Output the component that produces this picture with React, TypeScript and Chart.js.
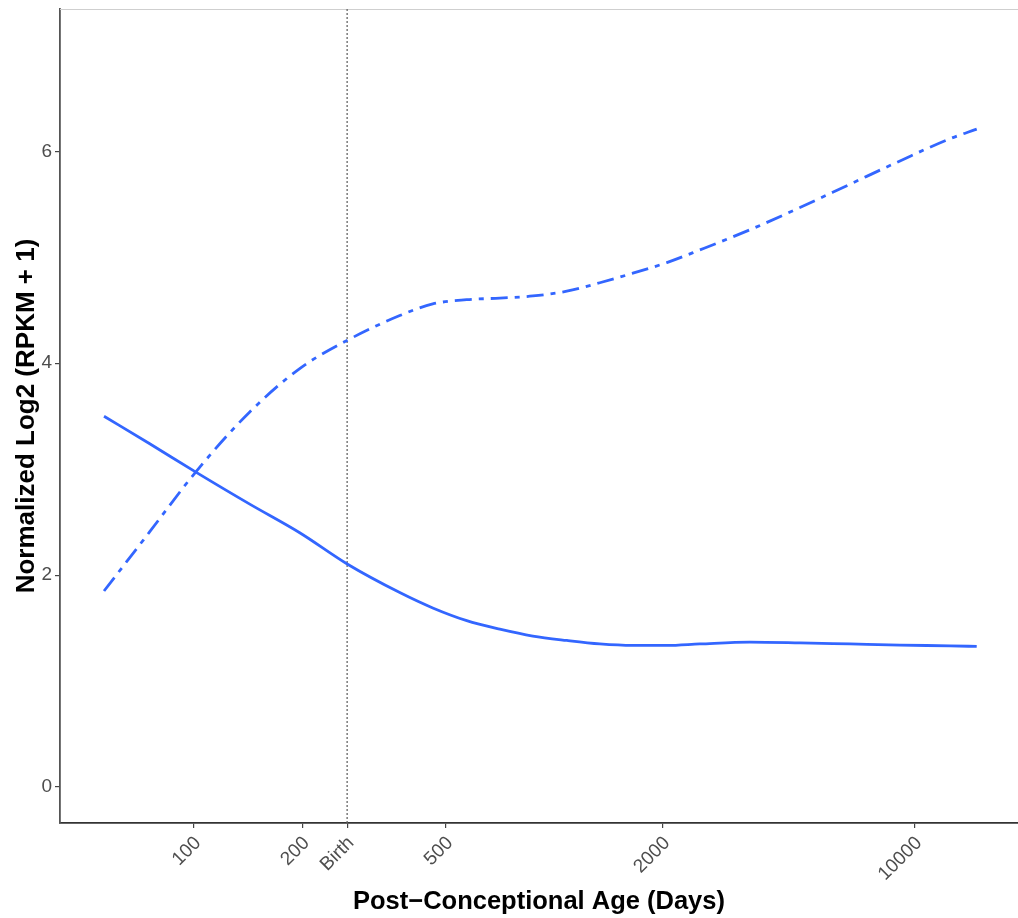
import React, { useEffect, useRef } from 'react';
import { Chart, registerables } from 'chart.js';

Chart.register(...registerables);

// Post-conceptional age in days (x, log scale)
const ageDays = [56.3, 75.4, 101.5, 142.8, 196.5, 267.5, 372.3, 459.6, 571, 705.3, 871, 1082, 1336, 1650, 2050, 2532, 3485, 4797, 6601, 9087, 12509, 14836];
// Solid curve
const solidValues = [3.50, 3.24, 2.97, 2.67, 2.40, 2.10, 1.835, 1.69, 1.57, 1.49, 1.425, 1.383, 1.35, 1.336, 1.336, 1.35, 1.367, 1.36, 1.35, 1.34, 1.332, 1.327];
// Dot-dash curve
const dotDashValues = [1.85, 2.41, 2.98, 3.54, 3.95, 4.22, 4.45, 4.56, 4.60, 4.615, 4.635, 4.68, 4.76, 4.85, 4.95, 5.07, 5.26, 5.47, 5.69, 5.91, 6.12, 6.21];

const xTickValues = [100, 200, 266, 500, 2000, 10000];
const xTickLabels = ['100', '200', 'Birth', '500', '2000', '10000'];
const yTickValues = [0, 2, 4, 6];
const birthDay = 266;

const FONT = '"Liberation Sans", Arial, Helvetica, sans-serif';

const overlayPlugin = {
  id: 'overlay',
  beforeDatasetsDraw(chart: any) {
    const { ctx, chartArea, scales } = chart;
    ctx.save();
    // top light border
    ctx.strokeStyle = '#cfcfcf';
    ctx.lineWidth = 1.2;
    ctx.beginPath();
    ctx.moveTo(chartArea.left, chartArea.top + 0.5);
    ctx.lineTo(chartArea.right, chartArea.top + 0.5);
    ctx.stroke();
    // birth dotted line
    const bx = scales.x.getPixelForValue(birthDay);
    ctx.strokeStyle = '#666666';
    ctx.lineWidth = 1.3;
    ctx.setLineDash([2, 2]);
    ctx.beginPath();
    ctx.moveTo(bx, chartArea.top);
    ctx.lineTo(bx, chartArea.bottom);
    ctx.stroke();
    ctx.restore();
  },
};

export default function App() {
  const canvasRef = useRef<HTMLCanvasElement | null>(null);

  useEffect(() => {
    const canvas = canvasRef.current;
    if (!canvas) return;
    const solidData = ageDays.map((d, i) => ({ x: d, y: solidValues[i] }));
    const dashData = ageDays.map((d, i) => ({ x: d, y: dotDashValues[i] }));
    const chart = new Chart(canvas, {
      type: 'line',
      data: {
        datasets: [
          {
            data: solidData,
            borderColor: '#3366FF',
            borderWidth: 2.8,
            pointRadius: 0,
            cubicInterpolationMode: 'monotone',
            fill: false,
          },
          {
            data: dashData,
            borderColor: '#3366FF',
            borderWidth: 2.8,
            borderDash: [17, 7, 5, 7],
            pointRadius: 0,
            cubicInterpolationMode: 'monotone',
            fill: false,
          },
        ],
      },
      options: {
        animation: false,
        responsive: false,
        devicePixelRatio: 1,
        layout: { padding: { top: 9, left: 0, right: 0, bottom: 0 } },
        plugins: {
          legend: { display: false },
          tooltip: { enabled: false },
        },
        scales: {
          x: {
            type: 'logarithmic',
            min: 42.5,
            max: 19312,
            afterBuildTicks: (scale: any) => {
              scale.ticks = xTickValues.map((v) => ({ value: v }));
            },
            afterFit: (scale: any) => {
              scale.height = 95;
              scale.paddingLeft = 0;
              scale.paddingRight = 0;
              scale.paddingTop = 0;
              scale.paddingBottom = 0;
            },
            grid: {
              drawOnChartArea: false,
              drawTicks: true,
              tickLength: 5,
              color: '#444444',
              lineWidth: 1.2,
            },
            border: { display: true, color: '#333333', width: 1.8 },
            ticks: {
              autoSkip: false,
              minRotation: 45,
              maxRotation: 45,
              padding: 4,
              labelOffset: 4,
              color: '#4D4D4D',
              font: { family: FONT, size: 19 },
              callback: (value: any) => {
                const idx = xTickValues.indexOf(Number(value));
                return idx >= 0 ? xTickLabels[idx] : '';
              },
            },
            title: {
              display: true,
              text: 'Post\u2212Conceptional Age (Days)',
              color: '#000000',
              font: { family: FONT, size: 25.5, weight: 'bold' },
              padding: { top: 0, bottom: 1 },
            },
          },
          y: {
            type: 'linear',
            min: -0.34,
            max: 7.344,
            afterBuildTicks: (scale: any) => {
              scale.ticks = yTickValues.map((v) => ({ value: v }));
            },
            afterFit: (scale: any) => {
              scale.width = 60;
              scale.paddingLeft = 0;
              scale.paddingRight = 0;
              scale.paddingTop = 0;
              scale.paddingBottom = 0;
            },
            grid: {
              drawOnChartArea: false,
              drawTicks: true,
              tickLength: 5,
              color: '#444444',
              lineWidth: 1.2,
            },
            border: { display: true, color: '#555555', width: 1.8 },
            ticks: {
              padding: 3,
              color: '#4D4D4D',
              font: { family: FONT, size: 19 },
              callback: (value: any) => String(value),
            },
            title: {
              display: true,
              text: 'Normalized Log2 (RPKM + 1)',
              color: '#000000',
              font: { family: FONT, size: 26, weight: 'bold' },
              padding: { top: 11, bottom: 0 },
            },
          },
        },
      },
      plugins: [overlayPlugin],
    } as any);
    return () => {
      chart.destroy();
    };
  }, []);

  return (
    <div style={{ position: 'absolute', left: 0, top: 0, width: 1018, height: 918, background: '#ffffff' }}>
      <canvas ref={canvasRef} width={1018} height={918} style={{ display: 'block', width: 1018, height: 918 }} />
    </div>
  );
}
